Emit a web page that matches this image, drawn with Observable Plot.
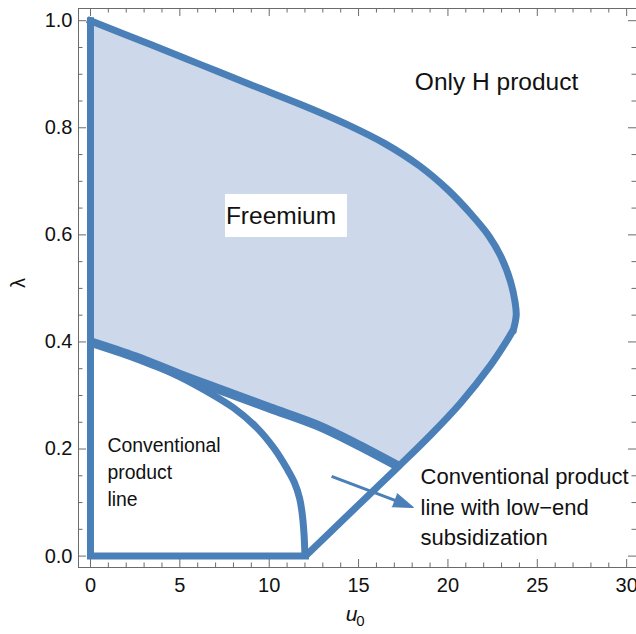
<!DOCTYPE html>
<html>
<head>
<meta charset="utf-8">
<script src="https://cdn.jsdelivr.net/npm/d3@7"></script>
<script src="https://cdn.jsdelivr.net/npm/@observablehq/plot@0.6"></script>
<style>
  html, body { margin: 0; padding: 0; background: #fff; }
  #chart svg { display: block; }
</style>
</head>
<body>
<div id="chart"></div>
<script>
// Upper boundary of the freemium region, from (0, 1) round to its right tip
const topU = [0, 3.4, 6.2, 9.0, 11.9, 14.4, 16.5, 18.4, 20.0, 21.3, 22.3, 23.0, 23.5, 23.75, 23.82, 23.67];
const topL = [1.0, 0.955, 0.9175, 0.880, 0.8417, 0.8055, 0.770, 0.729, 0.684, 0.6385, 0.5975, 0.557, 0.513, 0.4755, 0.450, 0.4234];

// Right boundary: from the tip down to u0 = 12 on the axis
const rightU = [23.67, 23.22, 22.38, 20.71, 19.03, 17.24, 14.6, 12.03];
const rightL = [0.4234, 0.3982, 0.3562, 0.2861, 0.2262, 0.1675, 0.083, 0.0];

// Lower boundary of the freemium region
const lowU = [0, 2.5, 5.0, 7.5, 10.0, 12.7, 15.0, 17.24];
const lowL = [0.4, 0.372, 0.339, 0.308, 0.277, 0.244, 0.207, 0.1675];

// Boundary of the conventional product line region
const convU = [0, 2.5, 5.0, 6.5, 8.0, 9.3, 10.3, 11.0, 11.4, 11.7, 11.85, 11.95, 12.0];
const convL = [0.4, 0.372, 0.335, 0.308, 0.277, 0.240, 0.200, 0.163, 0.138, 0.108, 0.078, 0.040, 0.0];

// Axis edges of the plotted region
const edgeU = [12.03, 0, 0];
const edgeL = [0, 0, 1.0];

// Ticks
const xMajor = [0, 5, 10, 15, 20, 25, 30];
const xMinor = d3.range(0, 31, 1).filter(v => v % 5 !== 0);
const yMajor = [0, 0.2, 0.4, 0.6, 0.8, 1.0];
const yMinor = d3.range(0, 1.01, 0.05).filter(v => Math.abs(v * 5 - Math.round(v * 5)) > 1e-6);

// Region labels
const labels = [
  {u: 22.72, l: 0.8846, text: "Only H product", size: 24.5, anchor: "middle"},
  {u: 10.66, l: 0.6357, text: "Freemium", size: 24.5, anchor: "middle"},
  {u: 0.95, l: 0.160, text: "Conventional\nproduct\nline", size: 19.4, anchor: "start", lh: 1.39},
  {u: 18.47, l: 0.0956, text: "Conventional product\nline with low\u2212end\nsubsidization", size: 22, anchor: "start", lh: 1.39}
];

// Arrow pointing at the subsidization region
const arrowFrom = [13.49, 0.149];
const arrowTo = [18.06, 0.091];

const pts = (us, ls) => us.map((u, i) => ({u, l: ls[i]}));

const width = 636, height = 634;
const mL = 78, mR = 0, mT = 8, mB = 67;
const innerW = width - mL - mR, innerH = height - mT - mB;
const xDomain = [-0.67, 30.55], yDomain = [-0.0213, 1.0228];
const kx = innerW / (xDomain[1] - xDomain[0]);
const ky = innerH / (yDomain[1] - yDomain[0]);

// Arrow direction in screen space
const adx = (arrowTo[0] - arrowFrom[0]) * kx;
const ady = -(arrowTo[1] - arrowFrom[1]) * ky;
const alen = Math.hypot(adx, ady);
const angle = Math.atan2(adx, -ady) * 180 / Math.PI;
const headLen = 20;
const shaftEnd = [
  arrowTo[0] - (adx / alen) * (headLen - 4) / kx,
  arrowTo[1] + (ady / alen) * (headLen - 4) / ky
];

const blue = "#4a7fb8";
const fillBlue = "#cdd9ea";
const frameGray = "#6b6b6b";
const lineW = 7;

// Freemium polygon: left edge, top curve, right edge to the kink, lower boundary back
const freemium = [
  {u: 0, l: 0.4},
  ...pts(topU, topL),
  ...pts(rightU, rightL).filter(d => d.l >= 0.167),
  ...pts(lowU, lowL).reverse()
];

const chart = Plot.plot({
  width, height,
  marginLeft: mL, marginRight: mR, marginTop: mT, marginBottom: mB,
  style: {fontFamily: "'Liberation Sans', Arial, sans-serif", background: "#fff"},
  x: {domain: xDomain},
  y: {domain: yDomain},
  marks: [
    Plot.line(freemium, {x: "u", y: "l", fill: fillBlue, stroke: "none"}),
    // conventional product line boundary
    Plot.line(pts(convU, convL), {x: "u", y: "l", stroke: blue, strokeWidth: lineW, curve: "catmull-rom", strokeLinecap: "butt"}),
    // lower freemium boundary (doubled edge, slightly heavier)
    Plot.line(pts(lowU, lowL), {x: "u", y: "l", stroke: blue, strokeWidth: 9.5, curve: "catmull-rom", strokeLinecap: "butt"}),
    Plot.line(pts(topU, topL), {x: "u", y: "l", stroke: blue, strokeWidth: lineW, curve: "catmull-rom", strokeLinecap: "square"}),
    Plot.line(pts(rightU, rightL), {x: "u", y: "l", stroke: blue, strokeWidth: lineW, curve: "catmull-rom", strokeLinecap: "butt"}),
    Plot.line(pts(edgeU, edgeL), {x: "u", y: "l", stroke: blue, strokeWidth: lineW, strokeLinejoin: "miter", strokeMiterlimit: 4, strokeLinecap: "square"}),

    // "Freemium" label box
    Plot.rect([labels[1]], {x1: "u", x2: "u", y1: "l", y2: "l", fill: "white",
      insetLeft: -55.5, insetRight: -66.5, insetTop: -21.3, insetBottom: -21.7}),

    // labels
    ...labels.map(d => Plot.text([d], {x: "u", y: "l", text: "text", fontSize: d.size,
      textAnchor: d.anchor, lineHeight: d.lh || 1, fill: "#111"})),

    // arrow
    Plot.link([{a: arrowFrom, b: shaftEnd}], {x1: d => d.a[0], y1: d => d.a[1], x2: d => d.b[0], y2: d => d.b[1],
      stroke: blue, strokeWidth: 3}),
    Plot.vector([arrowTo], {x: d => d[0], y: d => d[1], anchor: "end", length: headLen, rotate: angle,
      shape: "spike", r: 7, fill: blue, stroke: blue, strokeWidth: 1}),

    // frame
    Plot.ruleX([xDomain[0]], {stroke: frameGray, strokeWidth: 1}),
    Plot.ruleY([yDomain[0], yDomain[1]], {stroke: frameGray, strokeWidth: 1}),

    // ticks on all four sides, pointing inward
    Plot.tickX(xMajor, {x: d => d, insetTop: innerH - 8, stroke: frameGray}),
    Plot.tickX(xMinor, {x: d => d, insetTop: innerH - 4.5, stroke: frameGray}),
    Plot.tickX(xMajor, {x: d => d, insetBottom: innerH - 8, stroke: frameGray}),
    Plot.tickX(xMinor, {x: d => d, insetBottom: innerH - 4.5, stroke: frameGray}),
    Plot.tickY(yMajor, {y: d => d, insetRight: innerW - 8, stroke: frameGray}),
    Plot.tickY(yMinor, {y: d => d, insetRight: innerW - 4.5, stroke: frameGray}),
    Plot.tickY(yMajor, {y: d => d, insetLeft: innerW - 8, stroke: frameGray}),
    Plot.tickY(yMinor, {y: d => d, insetLeft: innerW - 4.5, stroke: frameGray}),

    Plot.axisX({ticks: xMajor, tickSize: 0, tickPadding: 10, fontSize: 20, label: null, tickFormat: d => String(d), color: "#111"}),
    Plot.axisY({ticks: yMajor, tickSize: 0, tickPadding: 6, fontSize: 20, label: null, tickFormat: d3.format(".1f"), color: "#111"}),

    // axis titles
    Plot.text(["\u03bb"], {frameAnchor: "left", dx: -60, rotate: -90, fontSize: 20, text: d => d, fill: "#111"}),
    Plot.text(["u"], {frameAnchor: "bottom", dx: -6, dy: 53, fontSize: 21, fontStyle: "italic", text: d => d, fill: "#111"}),
    Plot.text(["0"], {frameAnchor: "bottom", dx: 3, dy: 58, fontSize: 15, text: d => d, fill: "#111"})
  ]
});

document.getElementById("chart").appendChild(chart);
</script>
</body>
</html>
